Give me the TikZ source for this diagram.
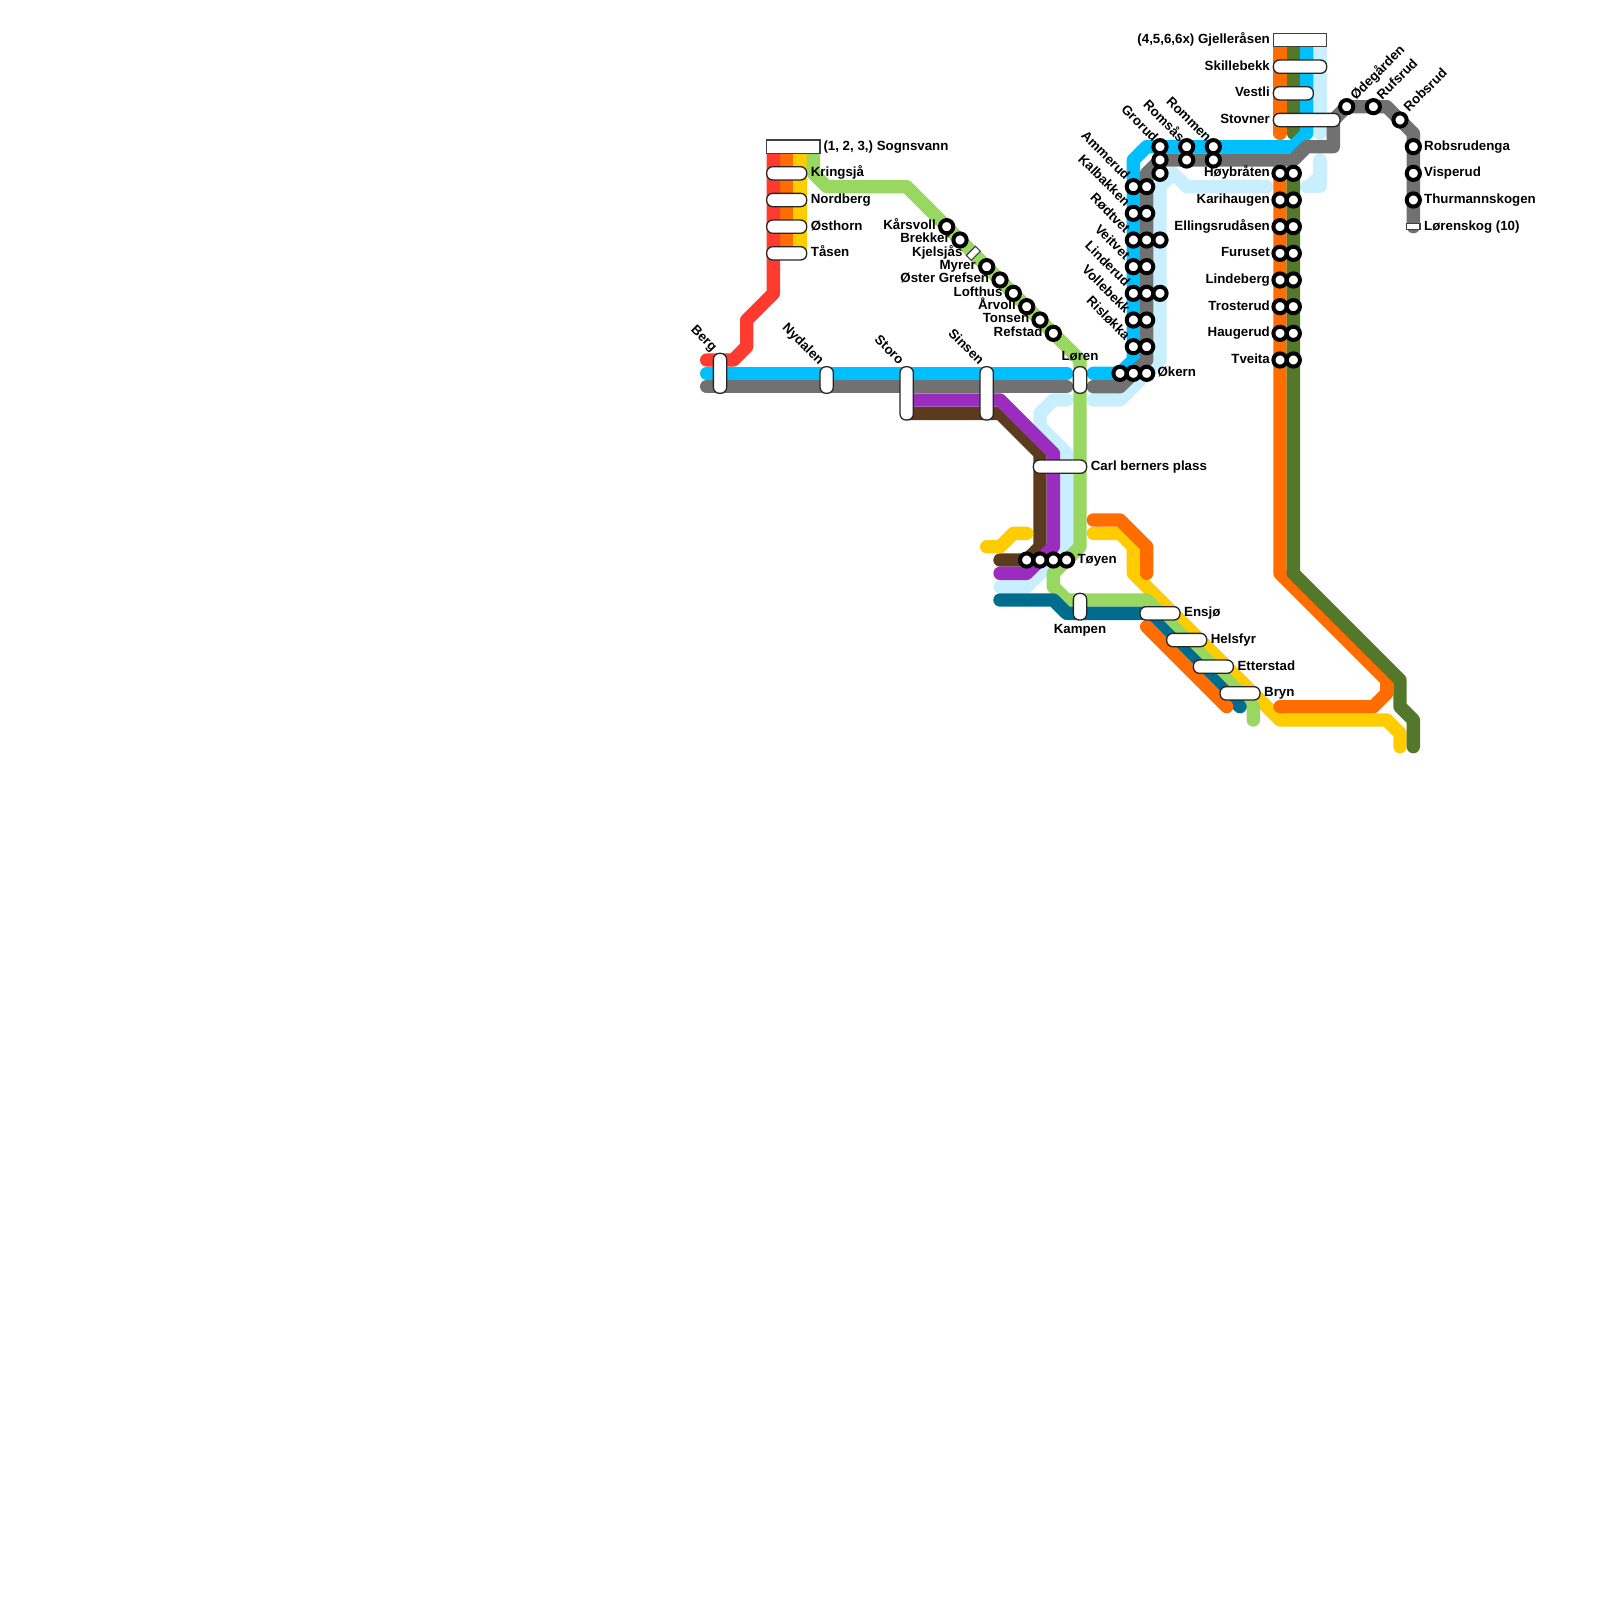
\documentclass[tikz,border=0pt]{standalone}
\usepackage{fontspec}
\setmainfont{Liberation Sans}
\definecolor{cRed}{HTML}{FF3B30}
\definecolor{cOra}{HTML}{FF6D00}
\definecolor{cYel}{HTML}{FFCC00}
\definecolor{cGrn}{HTML}{98D860}
\definecolor{cBlu}{HTML}{00BFFF}
\definecolor{cGry}{HTML}{717171}
\definecolor{cPur}{HTML}{9A2DBE}
\definecolor{cBrn}{HTML}{5C3A1E}
\definecolor{cTea}{HTML}{006D8F}
\definecolor{cLbl}{HTML}{C9EFFF}
\definecolor{cDgn}{HTML}{53782A}
\tikzset{
  mline/.style={line width=13.33pt,line cap=round,line join=round},
  stn/.style={circle,draw=black,fill=white,line width=4pt,minimum size=13.2pt,inner sep=0pt,outer sep=0pt},
  stad/.style={draw=black!85,fill=white,line width=1.3pt,rounded corners=6pt,inner sep=0pt},
  term/.style={draw=black!75,fill=white,line width=1.1pt,inner sep=0pt},
  lr/.style={anchor=base west,inner sep=0pt,font=\bfseries\fontsize{13.3}{14}\selectfont},
  ll/.style={anchor=base east,inner sep=0pt,font=\bfseries\fontsize{13.3}{14}\selectfont},
  lc/.style={anchor=base,inner sep=0pt,font=\bfseries\fontsize{13.3}{14}\selectfont},
}
\newcommand{\stnode}[3]{\node[stn] (#1) at (#2,#3) {};}
\newcommand{\hstad}[4]{\node[stad,minimum height=13.3pt,minimum width={(#3-#2)*13.333*1pt+13.3pt}] (#1) at ({(#2+#3)/2},#4) {};}
\newcommand{\vstad}[4]{\node[stad,minimum width=13.3pt,minimum height={(#4-#3)*13.333*1pt+13.3pt}] (#1) at (#2,{(#3+#4)/2}) {};}
\begin{document}
\begin{tikzpicture}[x=13.3333pt,y=-13.3333pt]
\useasboundingbox (0,0) rectangle (120,120);
\fill[white] (0,0) rectangle (120,120);
% light blue
\draw[mline,cLbl] (99,3)--(99,10);
\draw[mline,cLbl] (99,12)--(99,14)--(98,14);
\fill[cLbl] (99,12.5)--(99,13.5)--(98,14.5)--(97.5,14)--cycle;
\draw[mline,cLbl] (82,30)--(84,30)--(87,27)--(87,14)--(88,13)--(89,14)--(95,14);
\draw[mline,cLbl] (80,30)--(79,30)--(78,31)--(78,32)--(80,34)--(80,41)--(77,44)--(75,44);
% brown, purple
\draw[mline,cBrn] (68,31)--(75,31)--(78,34)--(78,41)--(77,42)--(75,42);
\draw[mline,cPur] (68,30)--(75,30)--(79,34)--(79,41)--(77,43)--(75,43);
% yellow
\draw[mline,cYel] (74,41)--(75,41)--(76,40)--(77,40);
\draw[mline,cYel] (82,40)--(84,40)--(85,41)--(85,43)--(96,54)--(104,54)--(105,55)--(105,56);
\draw[mline,cYel] (60,11)--(60,19);
% green
\draw[mline,cGrn] (61,11)--(61,13)--(62,14)--(68,14)--(81,27)--(81,41)--(79,43)--(79,44)--(80,45)--(86,45)--(94,53)--(94,54);
% teal
\draw[mline,cTea] (75,45)--(79,45)--(80,46)--(86,46)--(93,53);
% orange
\draw[mline,cOra] (59,11)--(59,19);
\draw[mline,cOra] (96,3)--(96,10);
\draw[mline,cOra] (96,13)--(96,43)--(104,51)--(104,52)--(103,53)--(96,53);
\draw[mline,cOra] (82,39)--(84,39)--(86,41)--(86,43);
\draw[mline,cOra] (86,47)--(92,53);
% dark green
\draw[mline,cDgn] (97,3)--(97,10);
\draw[mline,cDgn] (97,13)--(97,43)--(105,51)--(105,53)--(106,54)--(106,56);
% red
\draw[mline,cRed] (58,11)--(58,22)--(56,24)--(56,26)--(55,27)--(53,27);
% blue
\draw[mline,cBlu] (53,28)--(80,28);
\draw[mline,cBlu] (98,3)--(98,10)--(97,11)--(86,11)--(85,12)--(85,27)--(84,28)--(82,28);
% gray
\draw[mline,cGry] (53,29)--(80,29);
\draw[mline,cGry] (82,29)--(84,29)--(86,27)--(86,13)--(87,12)--(97,12)--(98,11)--(100,11)--(100,9)--(101,8)--(104,8)--(106,10)--(106,17);
% terminal boxes
\node[term,minimum width=53.3pt,minimum height=13.3pt] (sognsvann) at (59.5,11) {};
\node[term,minimum width=53.3pt,minimum height=13.3pt] (gjelleraasen) at (97.5,3) {};
\node[term,minimum width=13.3pt,minimum height=6.5pt] (lorenskog) at (106,17) {};
\node[term,minimum width=13pt,minimum height=7pt,rotate=45] (kjelsjaas) at (73,19) {};
% stadium stations
\hstad{kringsjaa}{58}{60}{13}
\hstad{nordberg}{58}{60}{15}
\hstad{oesthorn}{58}{60}{17}
\hstad{taasen}{58}{60}{19}
\vstad{berg}{54}{27}{29}
\vstad{nydalen}{62}{28}{29}
\vstad{storo}{68}{28}{31}
\vstad{sinsen}{74}{28}{31}
\vstad{loeren}{81}{28}{29}
\hstad{carl}{78}{81}{35}
\vstad{kampen}{81}{45}{46}
\hstad{ensjoe}{86}{88}{46}
\hstad{helsfyr}{88}{90}{48}
\hstad{etterstad}{90}{92}{50}
\hstad{bryn}{92}{94}{52}
\hstad{skillebekk}{96}{99}{5}
\hstad{vestli}{96}{98}{7}
\hstad{stovner}{96}{100}{9}
% circle stations
\foreach \x/\y in {85/14,86/14,85/16,86/16,85/18,86/18,87/18,85/20,86/20,85/22,86/22,87/22,85/24,86/24,85/26,86/26,84/28,85/28,86/28,
 87/11,87/12,87/13,89/11,89/12,91/11,91/12,
 96/13,97/13,96/15,97/15,96/17,97/17,96/19,97/19,96/21,97/21,96/23,97/23,96/25,97/25,96/27,97/27,
 77/42,78/42,79/42,80/42,
 71/17,72/18,74/20,75/21,76/22,77/23,78/24,79/25,
 101/8,103/8,105/9,106/11,106/13,106/15}
 {\stnode{s\x-\y}{\x}{\y}}
% labels right
\node[lr] (t1) at (61.75,11.27) {(1, 2, 3,) Sognsvann};
\node[lr] (t2) at (60.8,13.27) {Kringsjå};
\node[lr] (t3) at (60.8,15.27) {Nordberg};
\node[lr] (t4) at (60.8,17.27) {Østhorn};
\node[lr] (t5) at (60.8,19.27) {Tåsen};
\node[lr] (t6) at (81.8,35.27) {Carl berners plass};
\node[lr] (t7) at (80.8,42.27) {Tøyen};
\node[lr] (t8) at (86.8,28.27) {Økern};
\node[lr] (t9) at (88.8,46.27) {Ensjø};
\node[lr] (t10) at (90.8,48.27) {Helsfyr};
\node[lr] (t11) at (92.8,50.27) {Etterstad};
\node[lr] (t12) at (94.8,52.27) {Bryn};
\node[lr] (t13) at (106.8,11.27) {Robsrudenga};
\node[lr] (t14) at (106.8,13.27) {Visperud};
\node[lr] (t15) at (106.8,15.27) {Thurmannskogen};
\node[lr] (t16) at (106.8,17.27) {Lørenskog (10)};
% labels centre
\node[lc] (t17) at (81,27) {Løren};
\node[lc] (t18) at (81,47.5) {Kampen};
% labels left
\node[ll] (t19) at (95.25,3.27) {(4,5,6,6x) Gjelleråsen};
\node[ll] (t20) at (95.25,5.27) {Skillebekk};
\node[ll] (t21) at (95.25,7.27) {Vestli};
\node[ll] (t22) at (95.25,9.27) {Stovner};
\node[ll] (t23) at (95.25,13.27) {Høybråten};
\node[ll] (t24) at (95.25,15.27) {Karihaugen};
\node[ll] (t25) at (95.25,17.27) {Ellingsrudåsen};
\node[ll] (t26) at (95.25,19.27) {Furuset};
\node[ll] (t27) at (95.25,21.27) {Lindeberg};
\node[ll] (t28) at (95.25,23.27) {Trosterud};
\node[ll] (t29) at (95.25,25.27) {Haugerud};
\node[ll] (t30) at (95.25,27.27) {Tveita};
\node[ll] (t31) at (70.2,17.2) {Kårsvoll};
\node[ll] (t32) at (71.25,18.2) {Brekker};
\node[ll] (t33) at (72.2,19.2) {Kjelsjås};
\node[ll] (t34) at (73.2,20.2) {Myrer};
\node[ll] (t35) at (74.2,21.2) {Øster Grefsen};
\node[ll] (t36) at (75.2,22.2) {Lofthus};
\node[ll] (t37) at (76.2,23.2) {Årvoll};
\node[ll] (t38) at (77.2,24.2) {Tonsen};
\node[ll] (t39) at (78.2,25.2) {Refstad};
% rotated labels, reading downward
\node[ll,rotate=-45] (t40) at (53.4,26.4) {Berg};
\node[ll,rotate=-45] (t41) at (61.4,27.4) {Nydalen};
\node[ll,rotate=-45] (t42) at (67.4,27.4) {Storo};
\node[ll,rotate=-45] (t43) at (73.4,27.4) {Sinsen};
\node[ll,rotate=-45] (t44) at (84.35,13.55) {Ammerud};
\node[ll,rotate=-45] (t45) at (84.35,15.55) {Kalbakken};
\node[ll,rotate=-45] (t46) at (84.35,17.55) {Rødtvet};
\node[ll,rotate=-45] (t47) at (84.35,19.55) {Veitvet};
\node[ll,rotate=-45] (t48) at (84.35,21.55) {Linderud};
\node[ll,rotate=-45] (t49) at (84.35,23.55) {Vollebekk};
\node[ll,rotate=-45] (t50) at (84.35,25.55) {Risløkka};
\node[ll,rotate=-45] (t51) at (86.45,10.7) {Grorud};
\node[ll,rotate=-45] (t52) at (88.45,10.7) {Romsås};
\node[ll,rotate=-45] (t53) at (90.45,10.7) {Rommen};
% rotated labels, reading upward
\node[lr,rotate=45] (t54) at (101.67,7.55) {Ødegården};
\node[lr,rotate=45] (t55) at (103.67,7.55) {Rufsrud};
\node[lr,rotate=45] (t56) at (105.67,8.45) {Robsrud};
\end{tikzpicture}
\end{document}
